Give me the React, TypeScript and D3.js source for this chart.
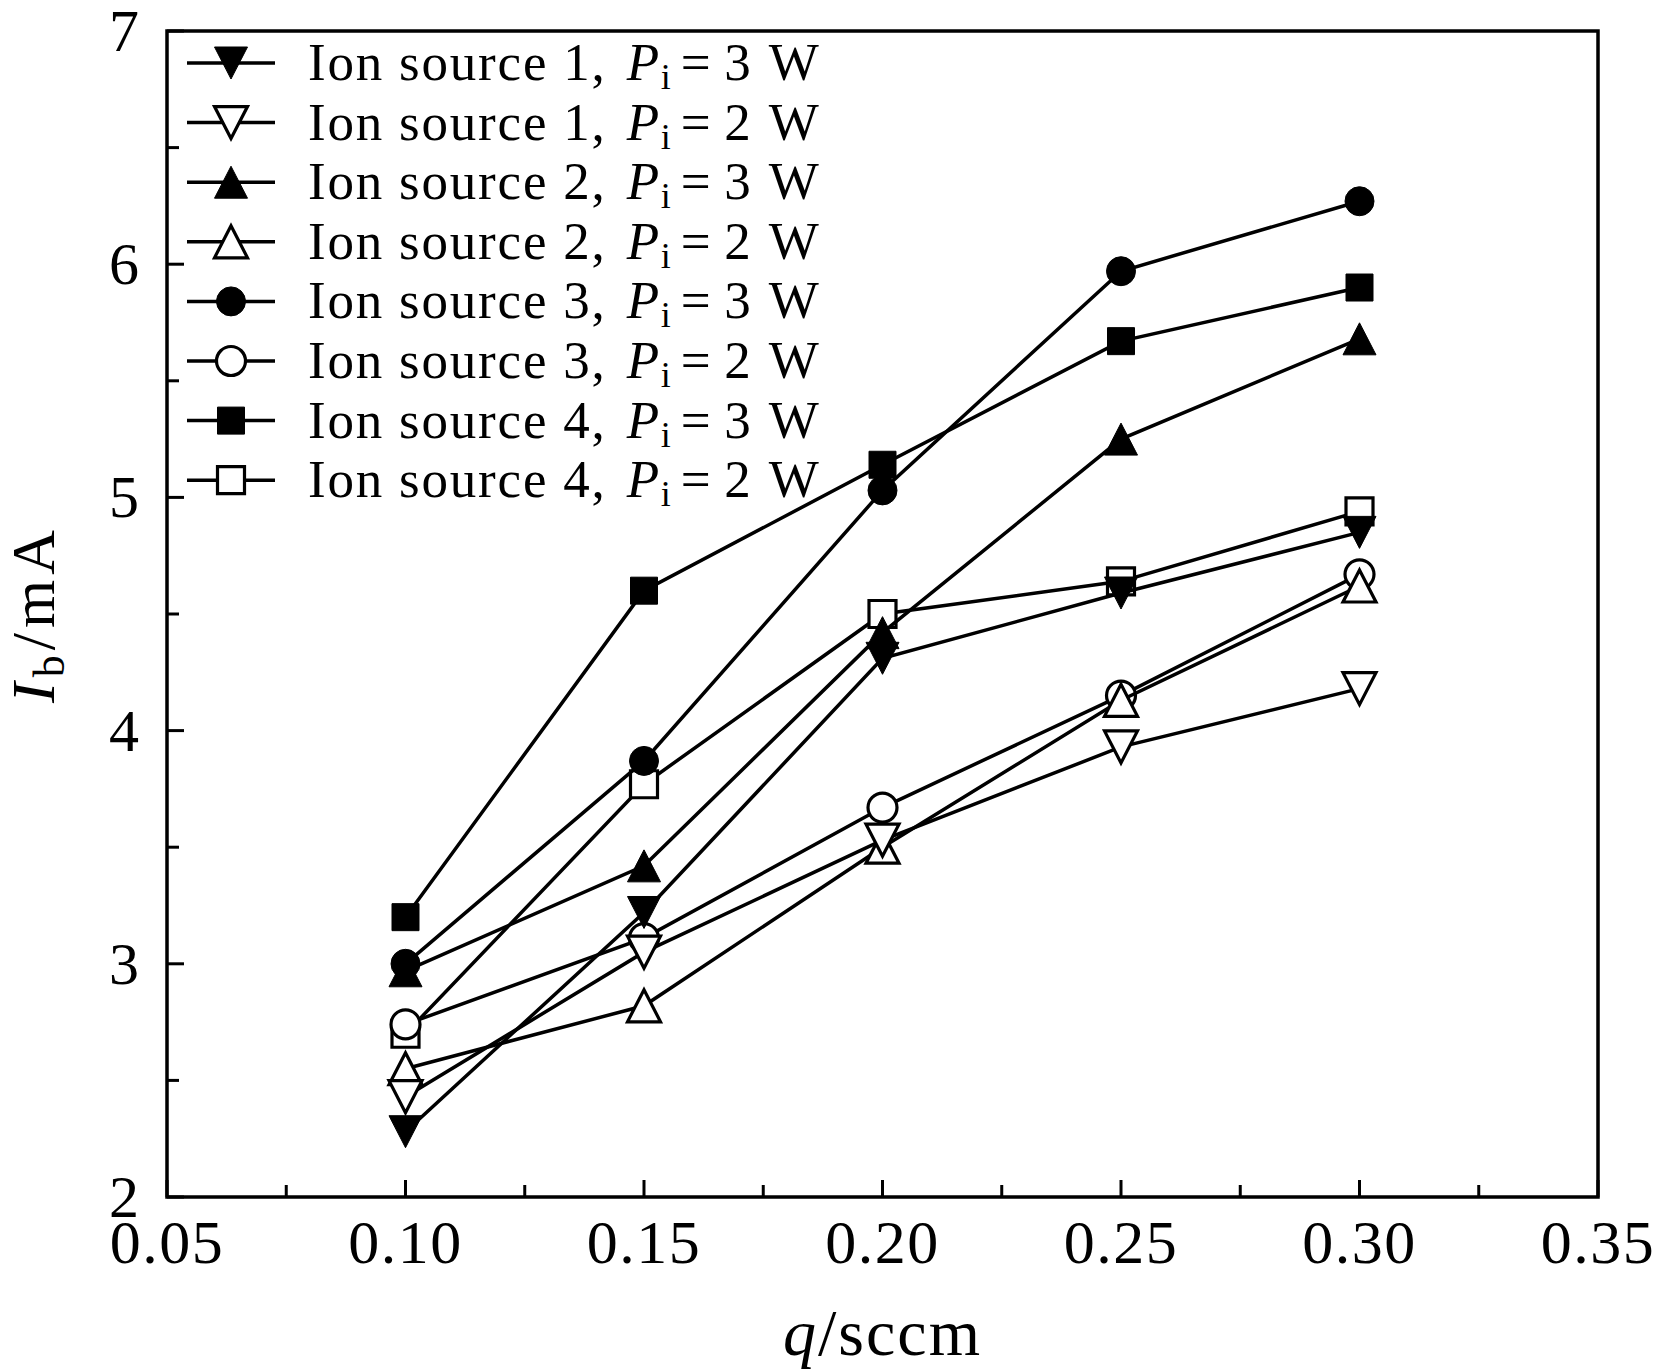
import React from 'react';
import * as d3 from 'd3';

// flow rate q (sccm)
const flows = [0.1, 0.15, 0.2, 0.25, 0.3];

// beam current Ib (mA) per ion source / power
const src1P3 = [2.28, 3.22, 4.31, 4.59, 4.85];
const src1P2 = [2.43, 3.05, 3.53, 3.93, 4.18];
const src2P3 = [2.97, 3.42, 4.42, 5.25, 5.68];
const src2P2 = [2.55, 2.82, 3.5, 4.13, 4.62];
const src3P3 = [3.0, 3.87, 5.03, 5.97, 6.27];
const src3P2 = [2.74, 3.11, 3.67, 4.15, 4.67];
const src4P3 = [3.2, 4.6, 5.14, 5.67, 5.9];
const src4P2 = [2.7, 3.77, 4.5, 4.64, 4.94];

const xTicks = [0.05, 0.1, 0.15, 0.2, 0.25, 0.3, 0.35];
const yTicks = [2, 3, 4, 5, 6, 7];

type Marker = 'triDown' | 'triUp' | 'circle' | 'square';

const series = [
  { source: 1, power: 3, values: src1P3, marker: 'triDown' as Marker, filled: true },
  { source: 1, power: 2, values: src1P2, marker: 'triDown' as Marker, filled: false },
  { source: 2, power: 3, values: src2P3, marker: 'triUp' as Marker, filled: true },
  { source: 2, power: 2, values: src2P2, marker: 'triUp' as Marker, filled: false },
  { source: 3, power: 3, values: src3P3, marker: 'circle' as Marker, filled: true },
  { source: 3, power: 2, values: src3P2, marker: 'circle' as Marker, filled: false },
  { source: 4, power: 3, values: src4P3, marker: 'square' as Marker, filled: true },
  { source: 4, power: 2, values: src4P2, marker: 'square' as Marker, filled: false },
];

const W = 1659;
const H = 1369;
const margin = { left: 167, right: 61, top: 31, bottom: 172 };
const font = '"Liberation Serif", "DejaVu Serif", serif';

function markerPath(m: Marker): string {
  const hw = 16.5;
  const hh = 16;
  if (m === 'triDown') return `M${-hw},${-hh}L${hw},${-hh}L0,${hh}Z`;
  if (m === 'triUp') return `M${-hw},${hh}L${hw},${hh}L0,${-hh}Z`;
  if (m === 'square') return 'M-13.5,-13.5H13.5V13.5H-13.5Z';
  const r = 14.5;
  return `M${r},0A${r},${r} 0 1,1 ${-r},0A${r},${r} 0 1,1 ${r},0Z`;
}

function MarkerMark({ m, filled, x, y }: { m: Marker; filled: boolean; x: number; y: number }) {
  return (
    <path
      d={markerPath(m)}
      transform={`translate(${x},${y})`}
      fill={filled ? '#000' : '#fff'}
      stroke="#000"
      strokeWidth={filled ? 1 : 3.2}
      strokeLinejoin="miter"
    />
  );
}

export default function App() {
  const x = d3.scaleLinear().domain([0.05, 0.35]).range([margin.left, W - margin.right]);
  const y = d3.scaleLinear().domain([2, 7]).range([H - margin.bottom, margin.top]);
  const line = d3
    .line<number>()
    .x((_, i) => x(flows[i]))
    .y((d) => y(d));

  const x0 = x.range()[0];
  const x1 = x.range()[1];
  const y0 = y.range()[0];
  const y1 = y.range()[1];

  // minor ticks halfway between labelled ones
  const xMinor = d3.range(0.075, 0.35, 0.05);
  const yMinor = d3.range(2.5, 7, 1);

  const legendTop = 63;
  const legendStep = 59.6;

  return (
    <svg
      width={W}
      height={H}
      style={{ position: 'absolute', left: 0, top: 0, background: '#fff' }}
      fontFamily={font}
    >
      {/* data, drawn last-first so source 1 sits on top */}
      {series
        .slice()
        .reverse()
        .map((s, k) => (
          <g key={k}>
            <path d={line(s.values) || ''} fill="none" stroke="#000" strokeWidth={3.5} />
            {s.values.map((v, i) => (
              <MarkerMark key={i} m={s.marker} filled={s.filled} x={x(flows[i])} y={y(v)} />
            ))}
          </g>
        ))}

      {/* frame */}
      <rect x={x0} y={y1} width={x1 - x0} height={y0 - y1} fill="none" stroke="#000" strokeWidth={3.5} />

      {/* x axis ticks */}
      {xTicks.map((t) => (
        <g key={'xt' + t}>
          <line x1={x(t)} x2={x(t)} y1={y0} y2={y0 - 17} stroke="#000" strokeWidth={3} />
          <text x={x(t)} y={1263} textAnchor="middle" fontSize={62} letterSpacing={1.5}>
            {t.toFixed(2)}
          </text>
        </g>
      ))}
      {xMinor.map((t) => (
        <line key={'xm' + t} x1={x(t)} x2={x(t)} y1={y0} y2={y0 - 12} stroke="#000" strokeWidth={3} />
      ))}

      {/* y axis ticks */}
      {yTicks.map((t) => (
        <g key={'yt' + t}>
          <line x1={x0} x2={x0 + 17} y1={y(t)} y2={y(t)} stroke="#000" strokeWidth={3} />
          <text x={x0 - 28} y={y(t) + 20} textAnchor="end" fontSize={60}>
            {t}
          </text>
        </g>
      ))}
      {yMinor.map((t) => (
        <line key={'ym' + t} x1={x0} x2={x0 + 12} y1={y(t)} y2={y(t)} stroke="#000" strokeWidth={3} />
      ))}

      {/* axis titles */}
      <text x={(x0 + x1) / 2} y={1355} textAnchor="middle" fontSize={66} letterSpacing={2}>
        <tspan fontStyle="italic">q</tspan>
        <tspan>/sccm</tspan>
      </text>
      <text
        transform={`translate(54,${(y0 + y1) / 2}) rotate(-90)`}
        textAnchor="middle"
        fontSize={62}
        letterSpacing={5}
      >
        <tspan fontStyle="italic">I</tspan>
        <tspan fontSize={44} dy={10}>b</tspan>
        <tspan dy={-10}>/mA</tspan>
      </text>

      {/* legend */}
      {series.map((s, i) => {
        const ly = legendTop + i * legendStep;
        return (
          <g key={'lg' + i}>
            <line x1={187} x2={275} y1={ly} y2={ly} stroke="#000" strokeWidth={3.5} />
            <MarkerMark m={s.marker} filled={s.filled} x={231} y={ly} />
            <text x={308} y={ly + 17} fontSize={53} letterSpacing={1.8}>
              <tspan>{`Ion source ${s.source},`}</tspan>
              <tspan fontStyle="italic" dx={20}>P</tspan>
              <tspan fontSize={36} dy={9}>i</tspan>
              <tspan dy={-9} dx={8}>=</tspan>
              <tspan dx={12}>{`${s.power}`}</tspan>
              <tspan dx={16}>W</tspan>
            </text>
          </g>
        );
      })}
    </svg>
  );
}
